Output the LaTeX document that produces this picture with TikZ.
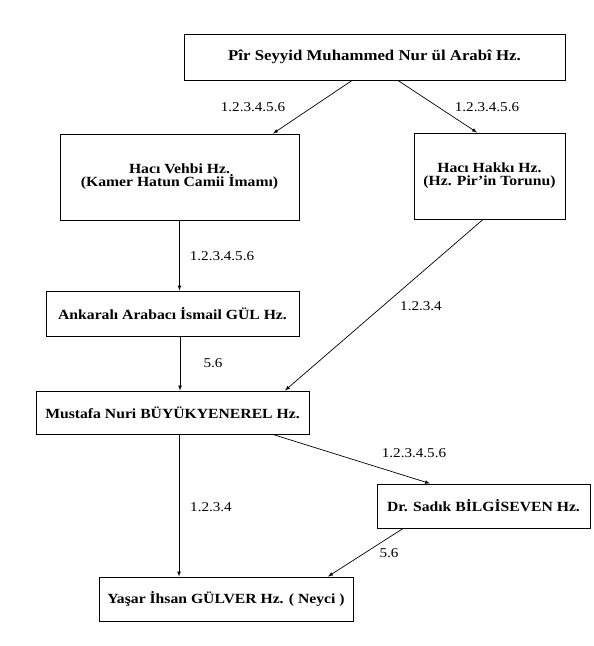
\documentclass[tikz,border=0pt]{standalone}
\usepackage{fontspec}
\setmainfont{Liberation Serif}[FakeStretch=1.12]
\usetikzlibrary{calc,positioning}
\tikzset{
  kutu/.style={draw, line width=1pt, inner sep=0pt, align=center,
    font=\bfseries\fontsize{14}{15}\selectfont},
  numara/.style={inner sep=1pt, font=\fontsize{13.5}{15}\selectfont},
  ok/.style={-latex, line width=0.7pt}
}

\begin{document}
\begin{tikzpicture}[x=1pt,y=-1pt]
  \useasboundingbox (0,0) rectangle (594,646);

  % kutular
  \node[kutu, minimum width=381pt, minimum height=46pt, font=\bfseries\fontsize{15}{16}\selectfont] (pir) at (374.5,57) {Pîr Seyyid Muhammed Nur ül Arabî Hz.};
  \node[kutu, minimum width=239pt, minimum height=86pt, font=\bfseries\fontsize{14}{13}\selectfont] (vehbi) at (179.5,177) {Hacı Vehbi Hz.\\(Kamer Hatun Camii İmamı)};
  \node[kutu, minimum width=151pt, minimum height=86pt, font=\bfseries\fontsize{14}{13}\selectfont] (hakki) at (489.5,176) {Hacı Hakkı Hz.\\(Hz. Pir'in Torunu)};
  \node[kutu, minimum width=253pt, minimum height=45pt] (ismail) at (172.5,313.5) {Ankaralı Arabacı İsmail GÜL Hz.};
  \node[kutu, minimum width=273pt, minimum height=43pt] (mustafa) at (172.5,412.5) {Mustafa Nuri BÜYÜKYENEREL Hz.};
  \node[kutu, minimum width=213pt, minimum height=44pt] (sadik) at (483.5,506) {Dr. Sadık BİLGİSEVEN Hz.};
  \node[kutu, minimum width=254pt, minimum height=44pt] (yasar) at (226,599) {Yaşar İhsan GÜLVER Hz. ( Neyci )};

  % oklar
  \draw[ok] ([xshift=-22.5pt]pir.south) -- ([xshift=93.5pt]vehbi.north);
  \draw[ok] ([xshift=23.5pt]pir.south) -- ([xshift=-12.5pt]hakki.north);
  \draw[ok] (vehbi.south) -- (vehbi.south |- ismail.north);
  \draw[ok] ([xshift=7.5pt]ismail.south) -- ([xshift=7.5pt]mustafa.north);
  \draw[ok] ([xshift=-6.5pt]hakki.south) -- ([xshift=112.5pt]mustafa.north);
  \draw[ok] ([xshift=6.5pt]mustafa.south) -- ([xshift=-47pt]yasar.north);
  \draw[ok] ([xshift=100.5pt]mustafa.south) -- ([xshift=-53.5pt]sadik.north);
  \draw[ok] ([xshift=-80.5pt]sadik.south) -- ([xshift=102pt]yasar.north);

  % numaralar
  \node[numara] (n1) at (253,107) {1.2.3.4.5.6};
  \node[numara] (n2) at (487,107) {1.2.3.4.5.6};
  \node[numara] (n3) at (222,256) {1.2.3.4.5.6};
  \node[numara] (n4) at (213,363) {5.6};
  \node[numara] (n5) at (421,306) {1.2.3.4};
  \node[numara] (n6) at (414,453) {1.2.3.4.5.6};
  \node[numara] (n7) at (211,507) {1.2.3.4};
  \node[numara] (n8) at (389,553) {5.6};
\end{tikzpicture}
\end{document}
